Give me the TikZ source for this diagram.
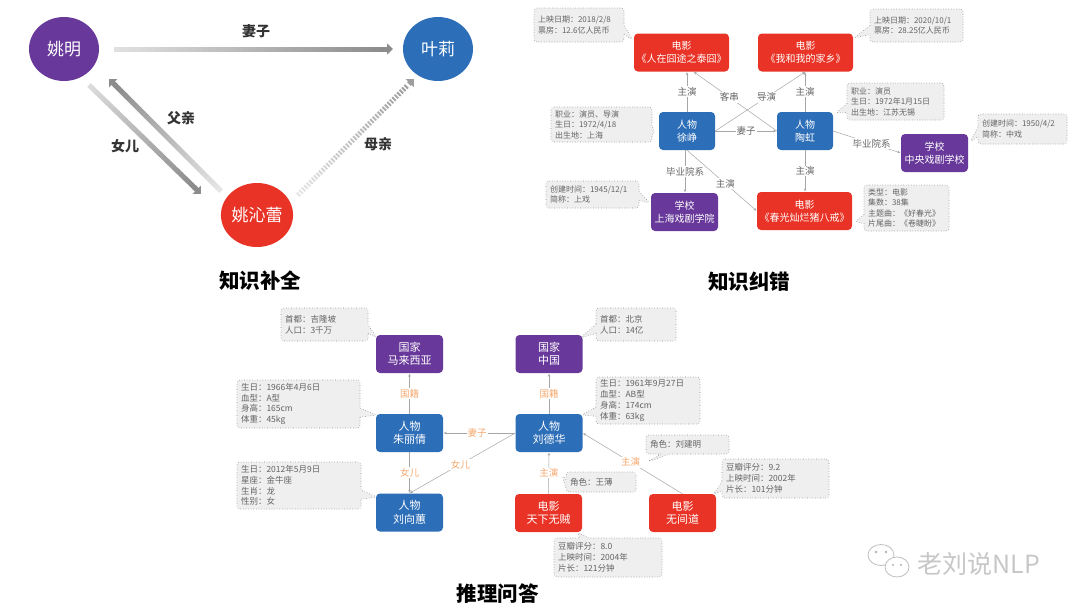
\documentclass[tikz,border=0pt]{standalone}
\usepackage{fontspec}
\setmainfont{Noto Sans CJK SC}
\usetikzlibrary{shapes.geometric,shapes.callouts,arrows.meta,calc}
\definecolor{cpur}{RGB}{104,57,154}
\definecolor{cblu}{RGB}{45,110,184}
\definecolor{cred}{RGB}{232,51,38}
\definecolor{corg}{RGB}{246,168,110}
\definecolor{cfill}{RGB}{239,239,239}
\definecolor{ctxt}{RGB}{100,100,100}
\newcommand\gradseg[6]{%
  \foreach \i in {1,...,#5}{%
    \pgfmathsetmacro\pa{(\i-1)/#5}%
    \pgfmathsetmacro\pb{(\i-1+#6)/#5}%
    \pgfmathsetmacro\cc{#3+(#4-#3)*(\i-1)/(#5-1)}%
    \draw[line width=5pt, draw=black!\cc] ($(#1)!\pa!(#2)$) -- ($(#1)!\pb!(#2)$);
  }}
\tikzset{
  circ/.style={ellipse, minimum width=70pt, minimum height=64pt, inner sep=0pt, text=white, font=\fontsize{17}{20}\selectfont},
  tl/.style={font=\bfseries\fontsize{14}{16}\selectfont, text=black!80},
  ttl/.style={font=\bfseries\fontsize{20.5}{24}\selectfont, text=black},
  ent/.style={rounded corners=4pt, text=white, align=center, inner sep=0pt, minimum height=38pt, font=\fontsize{10}{13}\selectfont},
  entb/.style={ent, minimum width=67pt, font=\fontsize{11}{13.5}\selectfont},
  mv/.style={fill=cred},
  pr/.style={fill=cblu},
  sc/.style={fill=cpur},
  bub/.style={rectangle callout, draw=black!45, dotted, line width=0.6pt, fill=cfill, rounded corners=3pt, text=ctxt, align=left, inner xsep=4pt, inner ysep=0pt, callout pointer width=9pt, font=\fontsize{8}{10.5}\selectfont},
  bubb/.style={bub, font=\fontsize{8.5}{10.8}\selectfont},
  edge/.style={draw=black!35, line width=0.5pt, -{Stealth[length=3pt,width=2.6pt]}, shorten >=0.5pt},
  elab/.style={fill=white, inner sep=1pt, text=black!60, font=\fontsize{9.5}{11}\selectfont},
  olab/.style={elab, text=corg},
  arrtip/.style={line width=5pt, -{Triangle[length=6pt,width=11pt]}},
}
\begin{document}
\begin{tikzpicture}[x=1pt,y=-1pt]
\useasboundingbox (0,0) rectangle (1080,611);
\fill[white] (0,0) rectangle (1080,611);

% ---------------- panel 1: knowledge completion
\node[circ, fill=cpur] (ym) at (64,49) {姚明};
\node[circ, fill=cblu] (yl) at (438,49) {叶莉};
\node[circ, fill=cred] (yq) at (257,215) {姚沁蕾};

\coordinate (a1s) at (114,49);  \coordinate (a1m) at (386,49);  \coordinate (a1e) at (393,49);
\gradseg{a1s}{a1m}{12}{45}{40}{1.1}
\draw[arrtip, draw=black!45] (385,49) -- (a1e);

\coordinate (a2s) at (89,85);  \coordinate (a2m) at (195,188);  \coordinate (a2e) at (201,194);
\gradseg{a2s}{a2m}{14}{45}{30}{1.1}
\draw[arrtip, draw=black!45] (194,187) -- (a2e);

\coordinate (a3s) at (221,191);  \coordinate (a3m) at (115,85);  \coordinate (a3e) at (109,79);
\gradseg{a3s}{a3m}{10}{45}{30}{1.1}
\draw[arrtip, draw=black!45] (116,86) -- (a3e);

\coordinate (a4s) at (298,195);  \coordinate (a4m) at (408,85);  \coordinate (a4e) at (414,79);
\gradseg{a4s}{a4m}{10}{38}{45}{0.55}
\draw[arrtip, draw=black!38] (409,84) -- (a4e);

\node[tl] (l1) at (256,31) {妻子};
\node[tl] (l2) at (125,146) {女儿};
\node[tl] (l3) at (181,118) {父亲};
\node[tl] (l4) at (378,144) {母亲};
\node[ttl] (t1) at (260,281) {知识补全};

% ---------------- panel 2: knowledge correction
\node[ent, mv, minimum width=95pt] (tj) at (681.5,52.5) {电影\\《人在囧途之泰囧》};
\node[ent, mv, minimum width=95pt] (jx) at (805.5,52.5) {电影\\《我和我的家乡》};
\node[ent, pr, minimum width=56pt] (xz) at (687,131) {人物\\徐峥};
\node[ent, pr, minimum width=56pt] (th) at (805,131) {人物\\陶虹};
\node[ent, sc, minimum width=67pt] (zx) at (934.5,153) {学校\\中央戏剧学校};
\node[ent, sc, minimum width=67pt] (sh) at (684.5,212) {学校\\上海戏剧学院};
\node[ent, mv, minimum width=95pt] (cg) at (804.5,211) {电影\\《春光灿烂猪八戒》};

\coordinate (xzb) at ($(xz.south)+(-2,0)$);
\coordinate (tjb) at ($(tj.south)+(12,0)$);
\draw[edge] (xz.north) -- node[elab]{主演} (xz.north |- tj.south);
\draw[edge] (th.west) -- node[elab,pos=0.57]{客串} (tjb);
\draw[edge] (xz.east) -- node[elab,pos=0.57]{导演} (jx.south);
\draw[edge] (th.north) -- node[elab]{主演} (th.north |- jx.south);
\draw[edge] (xz.east) -- node[elab,pos=0.5]{妻子} (th.west);
\draw[edge] (th.east) -- node[elab,pos=0.57]{毕业院系} (zx.west);
\draw[edge] (xzb) -- node[elab]{毕业院系} (xzb |- sh.north);
\draw[edge] (xz.south) -- node[elab,pos=0.55]{主演} (cg.west);
\draw[edge] (th.south) -- node[elab]{主演} (th.south |- cg.north);

\node[bub, text width=82pt, minimum height=34pt, callout absolute pointer={(633,40)}] (c1) at (579,25) {上映日期：2018/2/8\\票房：12.6亿人民币};
\node[bub, text width=85pt, minimum height=33pt, callout absolute pointer={(854,38)}] (c2) at (916.5,25.5) {上映日期：2020/10/1\\票房：28.25亿人民币};
\node[bub, text width=93pt, minimum height=35pt, callout absolute pointer={(655,134)}] (c3) at (601.5,124.5) {职业：演员、导演\\生日：1972/4/18\\出生地：上海};
\node[bub, text width=89pt, minimum height=37pt, callout absolute pointer={(836,113)}] (c4) at (895.5,101.5) {职业：演员\\生日：1972年1月15日\\出生地：江苏无锡};
\node[bub, text width=81pt, minimum height=30pt, callout absolute pointer={(970,142)}] (c5) at (1022.5,129) {创建时间：1950/4/2\\简称：中戏};
\node[bub, text width=85pt, minimum height=27pt, callout absolute pointer={(650,203)}] (c6) at (592.5,194.5) {创建时间：1945/12/1\\简称：上戏};
\node[bub, text width=77pt, minimum height=46pt, callout absolute pointer={(855,222)}] (c7) at (906.5,208) {类型：电影\\集数：38集\\主题曲：《好春光》\\片尾曲：《卷睫盼》};

\node[ttl] (t2) at (749,282) {知识纠错};

% ---------------- panel 3: reasoning QA
\node[entb, sc] (ml) at (409.5,354) {国家\\马来西亚};
\node[entb, sc] (zg) at (549,354) {国家\\中国};
\node[entb, pr] (zl) at (409.5,433) {人物\\朱丽倩};
\node[entb, pr] (ld) at (549,433) {人物\\刘德华};
\node[entb, pr] (lx) at (409.5,512.5) {人物\\刘向蕙};
\node[entb, mv] (tx) at (548.5,513) {电影\\天下无贼};
\node[entb, mv] (wj) at (682.5,513) {电影\\无间道};

\draw[edge] (zl.north) -- node[olab]{国籍} (ml.south);
\draw[edge] (ld.north) -- node[olab]{国籍} (zg.south);
\draw[edge] (ld.west) -- node[olab,pos=0.53]{妻子} (zl.east);
\draw[edge] (ld.west) -- node[olab,pos=0.52]{女儿} (lx.north);
\draw[edge] (zl.south) -- node[olab]{女儿} (lx.north);
\draw[edge] (tx.north) -- node[olab]{主演} (ld.south);
\draw[edge] (wj.north) -- node[olab,pos=0.52]{主演} (ld.east);

\node[bubb, text width=79pt, minimum height=33pt, callout absolute pointer={(377,338)}] (d1) at (324.5,324.5) {首都：吉隆坡\\人口：3千万};
\node[bubb, text width=72pt, minimum height=33pt, callout absolute pointer={(580,338)}] (d2) at (636,324.5) {首都：北京\\人口：14亿};
\node[bubb, text width=115pt, minimum height=48pt, callout absolute pointer={(377,415)}] (d3) at (298.5,404) {生日：1966年4月6日\\血型：A型\\身高：165cm\\体重：45kg};
\node[bubb, text width=96pt, minimum height=47pt, callout absolute pointer={(581,415)}] (d4) at (648,400.5) {生日：1961年9月27日\\血型：AB型\\身高：174cm\\体重：63kg};
\node[bubb, text width=116pt, minimum height=47pt, callout absolute pointer={(377,497)}] (d5) at (299,485.5) {生日：2012年5月9日\\星座：金牛座\\生肖：龙\\性别：女};
\node[bubb, text width=62pt, minimum height=20pt, callout absolute pointer={(562,475)}] (d6) at (601,482) {角色：王薄};
\node[bubb, text width=75pt, minimum height=19pt, callout absolute pointer={(647,462)}] (d7) at (687.5,444.5) {角色：刘建明};
\node[bubb, text width=99pt, minimum height=39pt, callout absolute pointer={(713,495)}] (d8) at (775.5,478.5) {豆瓣评分：9.2\\上映时间：2002年\\片长：101分钟};
\node[bubb, text width=100pt, minimum height=39pt, callout absolute pointer={(577,532)}] (d9) at (608,557.5) {豆瓣评分：8.0\\上映时间：2004年\\片长：121分钟};

\node[ttl] (t3) at (497.5,594) {推理问答};

% ---------------- watermark
\draw[black!25, line width=0.8pt, fill=white] (881,555) ellipse (13 and 10.5);
\draw[black!25, line width=0.8pt, fill=white] (897,567) ellipse (12 and 10);
\fill[black!30] (876,552) circle (1.3) (886,552) circle (1.3) (893,565) circle (1.2) (901,565) circle (1.2);
\node[text=black!22, font=\fontsize{25}{27}\selectfont] (wm) at (979,564) {老刘说NLP};
\end{tikzpicture}
\end{document}
